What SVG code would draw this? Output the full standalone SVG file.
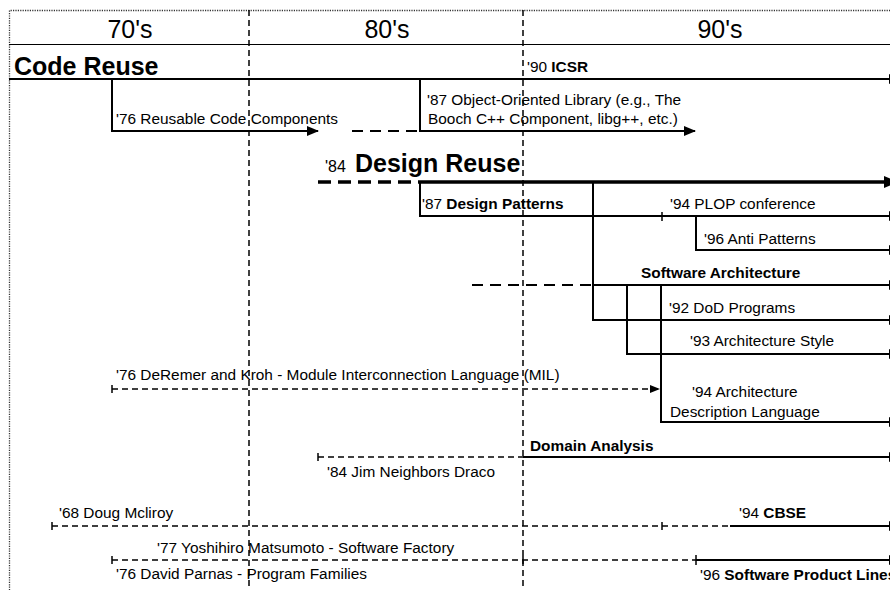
<svg xmlns="http://www.w3.org/2000/svg" width="890" height="590" viewBox="0 0 890 590">
<defs>
<marker id="arr" markerUnits="userSpaceOnUse" markerWidth="12" markerHeight="10" refX="11" refY="5" orient="auto"><path d="M0,0 L12,5 L0,10 Z" fill="#000"/></marker>
<marker id="arrBig" markerUnits="userSpaceOnUse" markerWidth="14" markerHeight="12" refX="13" refY="6" orient="auto"><path d="M0,0 L14,6 L0,12 Z" fill="#000"/></marker>
<marker id="arrS" markerUnits="userSpaceOnUse" markerWidth="10" markerHeight="8" refX="9" refY="4" orient="auto"><path d="M0,0 L10,4 L0,8 Z" fill="#000"/></marker>
</defs>
<style>
text{font-family:"Liberation Sans",Arial,sans-serif;fill:#000}
.hd{font-size:25px;text-anchor:middle}
.ttl{font-size:25px;font-weight:bold}
.t{font-size:15.4px}
.b{font-weight:bold}
.sol{fill:none;stroke:#000;stroke-width:2}
.thk{fill:none;stroke:#000;stroke-width:3.5}
.dsh{fill:none;stroke:#000;stroke-width:2;stroke-dasharray:11 7}
.dshk{fill:none;stroke:#000;stroke-width:3.5;stroke-dasharray:13 7}
.dsl{fill:none;stroke:#000;stroke-width:1.3;stroke-dasharray:6 4}
.div{fill:none;stroke:#000;stroke-width:1.5;stroke-dasharray:6 4}
.brd{fill:none;stroke:#333;stroke-width:1.3;stroke-dasharray:1.2 1.2}
.tk{fill:none;stroke:#000;stroke-width:1.5}
</style>
<rect width="890" height="590" fill="#fff"/>
<g id="frame">
<path class="brd" d="M9.5,595 V10.5 H895"/>
<path class="div" d="M249,10 V590"/>
<path class="div" d="M523,10 V590"/>
<path fill="none" stroke="#000" stroke-width="1" d="M9,44.5 H890"/>
</g>
<g id="connectors">
<path class="sol" d="M9,79 H900" marker-end="url(#arr)"/>
<path class="sol" d="M112,79 V131 H318" marker-end="url(#arr)"/>
<path class="dsh" d="M352,131 H418"/>
<path class="sol" d="M420,79 V131 H695" marker-end="url(#arr)"/>
<path class="dshk" d="M318,182 H420"/>
<path class="thk" d="M420,182 H897" marker-end="url(#arrBig)"/>
<path class="sol" d="M420,182 V216 H900" marker-end="url(#arr)"/>
<path class="tk" d="M662,212 V221"/>
<path class="sol" d="M696,216 V250 H900" marker-end="url(#arr)"/>
<path class="sol" d="M593,182 V320 H900" marker-end="url(#arr)"/>
<path class="dsh" d="M472,285 H593"/>
<path class="sol" d="M593,285 H900" marker-end="url(#arr)"/>
<path class="sol" d="M627,285 V354 H900" marker-end="url(#arr)"/>
<path class="sol" d="M661,285 V422 H900" marker-end="url(#arr)"/>
<path class="dsl" d="M112,389 H659" marker-end="url(#arrS)"/>
<path class="tk" d="M112,385 V393"/>
<path class="dsl" d="M318,457 H523"/>
<path class="tk" d="M318,453 V461"/>
<path class="sol" d="M523,457 H900" marker-end="url(#arr)"/>
<path class="dsl" d="M52,526 H730"/>
<path class="tk" d="M52,522 V530"/>
<path class="tk" d="M662,522 V530"/>
<path class="sol" d="M730,526 H900" marker-end="url(#arr)"/>
<path class="dsl" d="M112,560 H733"/>
<path class="tk" d="M112,556 V564"/>
<path class="tk" d="M523,556 V564"/>
<path class="sol" d="M696,560 H900" marker-end="url(#arr)"/>
<path class="tk" d="M696,555 V565"/>
</g>
<g id="h70"><text class="hd" x="130" y="38">70's</text></g>
<g id="h80"><text class="hd" x="387" y="38">80's</text></g>
<g id="h90"><text class="hd" x="720" y="38">90's</text></g>
<g id="code-reuse"><text class="ttl" x="14" y="75">Code Reuse</text></g>
<g id="icsr"><text class="t" x="527" y="72">'90 <tspan class="b">ICSR</tspan></text></g>
<g id="reusable-code"><text class="t" x="116" y="123.5">'76 Reusable Code Components</text></g>
<g id="oo-library"><text class="t" x="427" y="105">'87 Object-Oriented Library (e.g., The</text><text class="t" x="428" y="123.5">Booch C++ Component, libg++, etc.)</text></g>
<g id="design-reuse"><text x="325" y="172" style="font-size:16px">'84</text><text class="ttl" x="355" y="172">Design Reuse</text></g>
<g id="design-patterns"><text class="t" x="422" y="209">'87 <tspan class="b">Design Patterns</tspan></text></g>
<g id="plop"><text class="t" x="670" y="209">'94 PLOP conference</text></g>
<g id="anti-patterns"><text class="t" x="704" y="244">'96 Anti Patterns</text></g>
<g id="software-architecture"><text class="t b" x="641" y="278">Software Architecture</text></g>
<g id="dod"><text class="t" x="669" y="313">'92 DoD Programs</text></g>
<g id="arch-style"><text class="t" x="690" y="346">'93 Architecture Style</text></g>
<g id="adl"><text class="t" x="692" y="397">'94 Architecture</text><text class="t" x="670" y="416.5">Description Language</text></g>
<g id="mil"><text class="t" x="116" y="380">'76 DeRemer and Kroh - Module Interconnection Language (MIL)</text></g>
<g id="domain-analysis"><text class="t b" x="530" y="450.5">Domain Analysis</text></g>
<g id="draco"><text class="t" x="327" y="476.5">'84 Jim Neighbors Draco</text></g>
<g id="mcilroy"><text class="t" x="59" y="518">'68 Doug Mcliroy</text></g>
<g id="cbse"><text class="t" x="739" y="518">'94 <tspan class="b">CBSE</tspan></text></g>
<g id="software-factory"><text class="t" x="157" y="553">'77 Yoshihiro Matsumoto - Software Factory</text></g>
<g id="program-families"><text class="t" x="116" y="578.5">'76 David Parnas - Program Families</text></g>
<g id="spl"><text class="t" x="700" y="579.5">'96 <tspan class="b">Software Product Lines</tspan></text></g>
</svg>
